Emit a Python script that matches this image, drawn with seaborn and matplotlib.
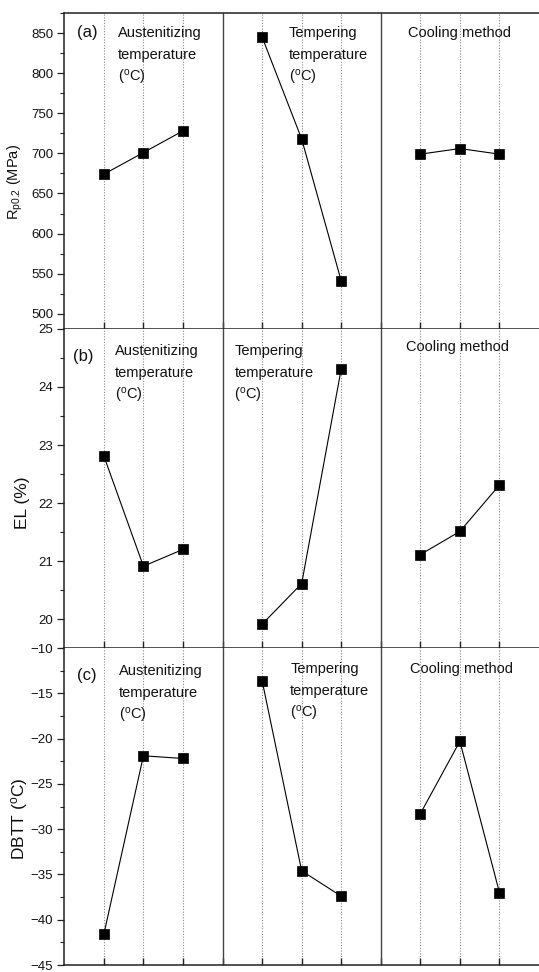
import numpy as np
import pandas as pd
import matplotlib
matplotlib.use("Agg")
import matplotlib.pyplot as plt
from matplotlib.ticker import MultipleLocator, FixedLocator, NullFormatter
import seaborn as sns

# ---------------- data ----------------
factors = ["Austenitizing temperature", "Tempering temperature", "Cooling method"]
factor_labels = ["Austenitizing\ntemperature\n(°C)", "Tempering\ntemperature\n(°C)", "Cooling method"]
levels = [1, 2, 3]

rp02 = [[674, 701, 728], [845, 718, 541], [699, 706, 699]]
el = [[22.81, 20.91, 21.20], [19.91, 20.61, 24.31], [21.11, 21.51, 22.31]]
dbtt = [[-41.6, -21.9, -22.2], [-13.6, -34.6, -37.4], [-28.3, -20.3, -37.0]]

panel_tags = ["(a)", "(b)", "(c)"]
ylabels = [r"R$_\mathregular{p0.2}$ (MPa)", "EL (%)", r"DBTT ($^\mathregular{o}$C)"]

# ---------------- style ----------------
sns.set_theme(style="ticks")
plt.rcParams["font.family"] = ["Liberation Sans", "DejaVu Sans"]
plt.rcParams["mathtext.fontset"] = "custom"
plt.rcParams["mathtext.rm"] = "Liberation Sans"
plt.rcParams["mathtext.it"] = "Liberation Sans:italic"

W, H = 539, 972
fig = plt.figure(figsize=(W / 100, H / 100), dpi=100)

left_px = 64.3
panel_px = [(13, 329), (329, 648), (648, 965)]
ylims = [(481, 875), (19.5, 25), (-45, -10)]
majors = [50, 1, 5]
ylabel_x = [(25 - left_px) / (W - left_px), (30 - left_px) / (W - left_px), (30 - left_px) / (W - left_px)]
ylabel_y = [0.465, 0.455, 0.46]
ylabel_size = [10.5, 12.5, 12.5]

# text positions (data x, px from panel top)
tag_pos = [(0.57, 20), (0.47, 27.5), (0.57, 27)]
aust_pos = [(1.35, 20), (1.28, 21.5), (1.38, 23)]
temp_pos = [(5.68, 20), (4.30, 21.5), (5.71, 21)]
cool_pos = [(8.68, 20), (8.63, 18.5), (8.73, 21)]
line_dy = 22.3

datasets = [rp02, el, dbtt]

for p, (top, bot) in enumerate(panel_px):
    ax = fig.add_axes([left_px / W, 1 - bot / H, 1 - left_px / W, (bot - top) / H])
    rows = []
    for g, f in enumerate(factors):
        for i, lv in enumerate(levels):
            rows.append({"factor": f, "pos": 4 * g + lv, "val": datasets[p][g][i]})
    df = pd.DataFrame(rows)

    # guide lines
    for g in range(3):
        for lv in levels:
            ax.axvline(4 * g + lv, color="#888888", ls=(0, (1, 1.5)), lw=0.8, zorder=0)
    for sep in (4, 8):
        ax.axvline(sep, color="#444444", lw=1.0, zorder=1)

    sns.lineplot(data=df, x="pos", y="val", hue="factor", palette=["black"] * 3,
                 marker="s", markersize=7.5, markeredgecolor="black", markeredgewidth=0.5,
                 linewidth=0.8, legend=False, ax=ax, zorder=3)

    ax.set_xlim(0, 12)
    ax.set_ylim(*ylims[p])
    ax.xaxis.set_major_locator(FixedLocator(range(1, 12)))
    ax.xaxis.set_major_formatter(NullFormatter())
    ax.tick_params(axis="x", direction="in", length=5, width=1.0, color="#222222")
    ax.yaxis.set_major_locator(MultipleLocator(majors[p]))
    ax.yaxis.set_minor_locator(MultipleLocator(majors[p] / 2))
    ax.tick_params(axis="y", which="major", direction="out", length=5, width=0.9,
                   labelsize=9.5, pad=3, color="#222222", labelcolor="#111111")
    ax.tick_params(axis="y", which="minor", direction="out", length=3, width=0.8, color="#222222")
    ax.set_xlabel("")
    ax.set_ylabel(ylabels[p], fontsize=ylabel_size[p], color="#111111")
    ax.yaxis.set_label_coords(ylabel_x[p], ylabel_y[p])
    for s in ("left", "bottom", "top"):
        ax.spines[s].set_linewidth(1.1)
        ax.spines[s].set_color("#222222")
    ax.spines["right"].set_visible(False)
    if p > 0:
        ax.spines["top"].set_visible(False)

    hp = bot - top
    tx, ty = tag_pos[p]
    ax.text(tx, 1 - ty / hp, panel_tags[p], transform=ax.get_xaxis_transform(),
            ha="center", va="center", fontsize=12, color="#111111")
    for (x0, y0), lab in zip([aust_pos[p], temp_pos[p], cool_pos[p]], factor_labels):
        for k, line in enumerate(lab.split("\n")):
            if line == "(°C)":
                line = r"($^\mathregular{o}$C)"
            ax.text(x0, 1 - (y0 + k * line_dy) / hp, line, transform=ax.get_xaxis_transform(),
                    ha="left", va="center", fontsize=10.5, color="#111111")

fig.savefig("out.png", dpi=100)
